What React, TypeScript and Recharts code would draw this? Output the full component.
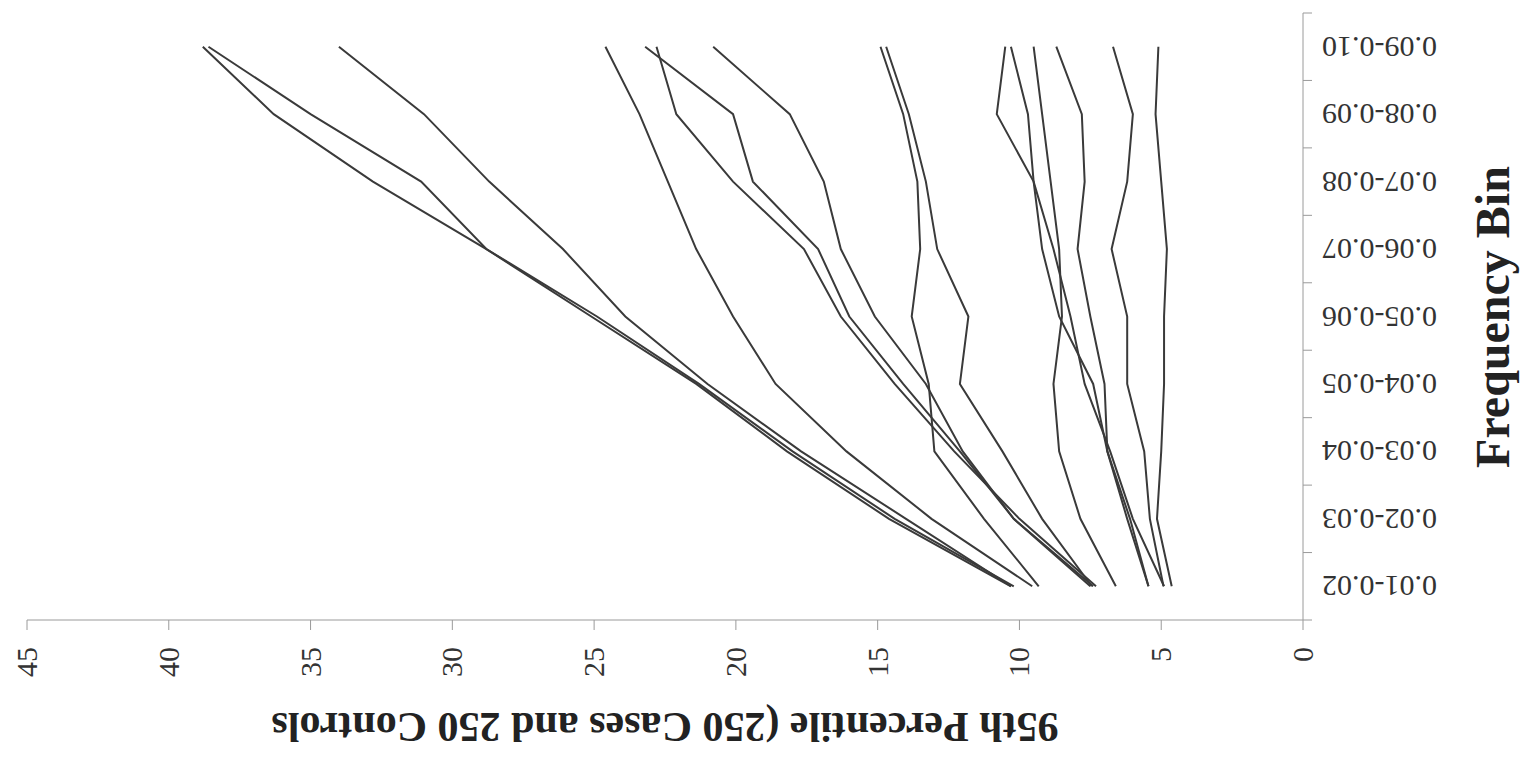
import { LineChart, Line, XAxis, YAxis, Label } from "recharts"

// frequency bins, bottom of the chart first
const bins = ["0.01-0.02", "0.02-0.03", "0.03-0.04", "0.04-0.05", "0.05-0.06", "0.06-0.07", "0.07-0.08", "0.08-0.09", "0.09-0.10"]
const valueTicks = [0, 5, 10, 15, 20, 25, 30, 35, 40, 45]

// 95th percentile per bin, one array per run
const run01 = [10.3, 14.6, 18.2, 21.4, 25.1, 28.8, 32.8, 36.3, 38.8]
const run02 = [10.2, 14.4, 18.0, 21.3, 24.9, 28.8, 31.1, 35.0, 38.6]
const run03 = [10.3, 14.0, 17.7, 21.0, 23.9, 26.1, 28.7, 31.0, 34.0]
const run04 = [9.55, 13.1, 16.1, 18.6, 20.1, 21.4, 22.4, 23.4, 24.6]
const run05 = [7.4, 10.2, 12.1, 14.1, 16.0, 17.1, 19.4, 20.1, 23.2]
const run06 = [7.3, 10.0, 12.3, 14.4, 16.3, 17.6, 20.1, 22.1, 22.8]
const run07 = [7.5, 10.2, 12.0, 13.3, 15.1, 16.3, 16.9, 18.1, 20.8]
const run08 = [9.32, 11.25, 13.0, 13.2, 13.8, 13.5, 13.6, 14.1, 14.9]
const run09 = [7.45, 9.2, 10.6, 12.1, 11.8, 12.9, 13.3, 13.9, 14.7]
const run10 = [4.9, 6.0, 6.8, 7.7, 8.2, 8.8, 9.5, 10.8, 10.5]
const run11 = [5.45, 6.2, 6.9, 7.4, 8.6, 9.2, 9.5, 9.7, 10.3]
const run12 = [6.6, 7.85, 8.6, 8.8, 8.5, 8.6, 8.9, 9.2, 9.5]
const run13 = [5.45, 6.1, 6.9, 7.0, 7.5, 7.95, 7.7, 7.8, 8.7]
const run14 = [4.92, 5.4, 5.6, 6.2, 6.2, 6.75, 6.2, 6.0, 6.7]
const run15 = [4.63, 5.15, 5.0, 4.9, 4.9, 4.8, 5.0, 5.2, 5.1]

const runs = [run01, run02, run03, run04, run05, run06, run07, run08, run09, run10, run11, run12, run13, run14, run15]

const data = bins.map((bin, i) => {
  const row: any = { bin }
  runs.forEach((r, k) => { row["r" + k] = r[i] })
  return row
})

const serif = "'Liberation Serif','Times New Roman',serif"
const W = 1524
const H = 770
const plotTop = 13
const plotBottom = 620
const plotLeft = 27
const plotRight = 1303
const band = (plotBottom - plotTop) / bins.length

const ValueTick = ({ x, payload }: any) => (
  <text transform={`translate(${x + 10},647) rotate(-90)`} textAnchor="end" fontSize={30} fill="#333" fontFamily={serif}>
    {payload.value}
  </text>
)

const BinTick = ({ y, payload, index }: any) => (
  <g>
    <line x1={plotRight} x2={plotRight + 9} y1={y + band / 2} y2={y + band / 2} stroke="#9a9a9a" />
    {index === bins.length - 1 && (
      <line x1={plotRight} x2={plotRight + 9} y1={y - band / 2} y2={y - band / 2} stroke="#9a9a9a" />
    )}
    <text transform={`translate(1322,${y - 10}) rotate(180)`} textAnchor="end" fontSize={30} fill="#333" fontFamily={serif}>
      {payload.value}
    </text>
  </g>
)

export default function App() {
  return (
    <div style={{ position: "absolute", left: 0, top: 0, width: W, height: H, background: "#fff" }}>
      <LineChart width={W} height={H} data={data} layout="vertical" margin={{ top: plotTop, right: 0, bottom: 0, left: plotLeft }}>
        <XAxis
          type="number"
          domain={[0, 45]}
          ticks={valueTicks}
          reversed
          height={H - plotBottom}
          axisLine={{ stroke: "#9a9a9a" }}
          tickLine={{ stroke: "#9a9a9a" }}
          tickSize={10}
          tick={<ValueTick />}
          interval={0}
        >
          <Label
            content={() => (
              <text transform="translate(665,713) rotate(180)" textAnchor="middle" fontSize={42} fontWeight="bold" fill="#222" fontFamily={serif}>
                95th Percentile (250 Cases and 250 Controls
              </text>
            )}
          />
        </XAxis>
        <YAxis
          type="category"
          dataKey="bin"
          orientation="right"
          reversed
          width={W - plotRight}
          padding={{ top: band / 2, bottom: band / 2 }}
          axisLine={{ stroke: "#9a9a9a" }}
          tickLine={false}
          tick={<BinTick />}
          interval={0}
        >
          <Label
            content={() => (
              <text transform="translate(1509,317) rotate(-90)" textAnchor="middle" fontSize={48} fontWeight="bold" fill="#222" fontFamily={serif}>
                Frequency Bin
              </text>
            )}
          />
        </YAxis>
        {runs.map((_, k) => (
          <Line key={k} dataKey={"r" + k} type="linear" stroke="#3a3a3a" strokeWidth={2} dot={false} isAnimationActive={false} />
        ))}
      </LineChart>
    </div>
  )
}
